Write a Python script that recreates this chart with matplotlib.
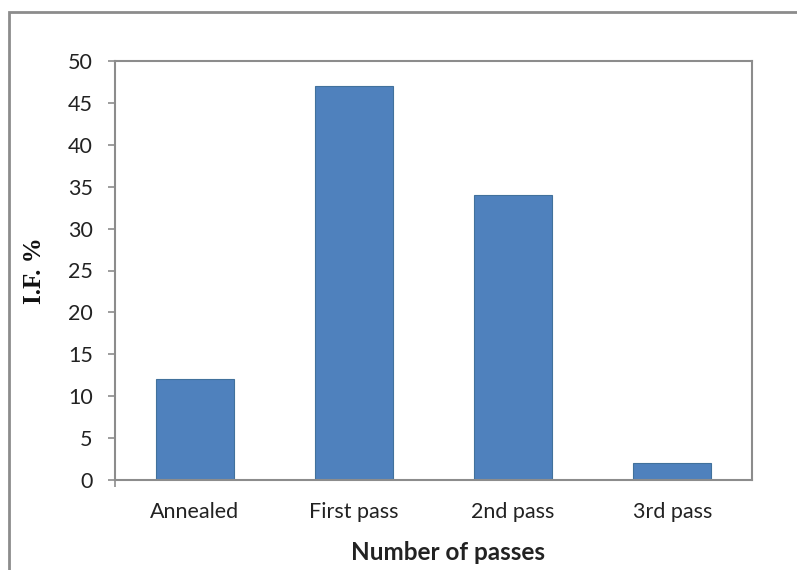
import matplotlib
matplotlib.use("Agg")
import matplotlib.pyplot as plt
from matplotlib.patches import Rectangle

categories = ["Annealed", "First pass", "2nd pass", "3rd pass"]
values = [12, 47, 34, 2]
yticks = [0, 5, 10, 15, 20, 25, 30, 35, 40, 45, 50]

fig = plt.figure(figsize=(7.97, 5.70), dpi=100)
# outer chart border (right and bottom run off the image)
fig.patches.append(Rectangle((9 / 797, -0.05), 1.2, 1 - 12 / 570 + 0.05,
                             transform=fig.transFigure, fill=False,
                             edgecolor="#8c8c8c", linewidth=2))

ax = fig.add_axes([115 / 797, 90 / 570, (752 - 115) / 797, (480 - 61) / 570])
x = range(len(categories))
ax.bar(x, values, width=0.49, color="#4F81BD", edgecolor="#41719C", linewidth=0.8)

ax.set_xlim(-0.5, len(categories) - 0.5)
ax.set_ylim(0, 50)
ax.set_yticks(yticks)
ax.set_xticks(list(x))
ax.set_xticklabels(categories)

for s in ax.spines.values():
    s.set_color("#8c8c8c")
    s.set_linewidth(1.5)

ax.tick_params(axis="y", direction="out", length=5, width=1.2, color="#8c8c8c",
               labelsize=15.5, pad=11, labelcolor="#222222")
ax.tick_params(axis="x", length=0, labelsize=15.5, pad=16, labelcolor="#222222")
ax.set_xticks([-0.5], minor=True)
ax.tick_params(axis="x", which="minor", direction="out", length=5, width=1.2, color="#8c8c8c")

for lbl in ax.get_xticklabels() + ax.get_yticklabels():
    lbl.set_family("Lato")

ax.set_xlabel("Number of passes", fontsize=17.5, fontweight="bold", family="Lato",
              color="#222222")
ax.xaxis.set_label_coords(0.522, -0.145)
ax.set_ylabel("I.F. %", fontsize=18, fontweight="bold", family="Liberation Serif",
              labelpad=16, color="#111111")

fig.savefig("out.png", dpi=100)
